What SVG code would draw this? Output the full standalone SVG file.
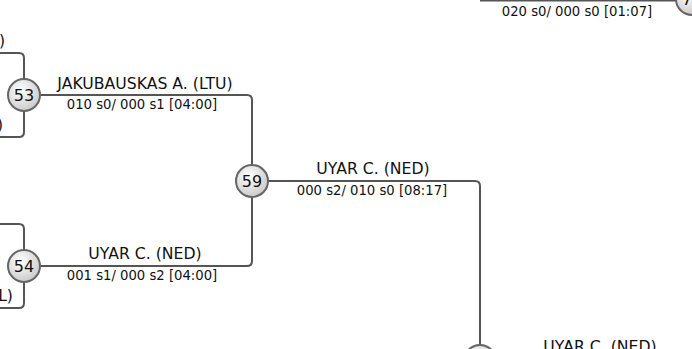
<svg xmlns="http://www.w3.org/2000/svg" width="692" height="349" viewBox="0 0 692 349">
<style>
.ln{fill:none;stroke:#555;stroke-width:2}
.nd{fill:url(#g);stroke:#666;stroke-width:2}
.nm{font-family:"DejaVu Sans",sans-serif;font-size:15.7px;fill:#111;text-anchor:middle}
.sb{font-family:"DejaVu Sans",sans-serif;font-size:13.2px;fill:#111;text-anchor:middle}
.num{font-family:"DejaVu Sans",sans-serif;font-size:16px;fill:#111;text-anchor:middle}
.e{text-anchor:end}
</style>
<defs>
<radialGradient id="g" cx="0.4" cy="0.35" r="0.7">
<stop offset="0" stop-color="#ffffff"/>
<stop offset="1" stop-color="#c8c8c8"/>
</radialGradient>
</defs>
<rect width="692" height="349" fill="#fff"/>
<g id="connectors">
<path class="ln" d="M-10,53 H19 Q24,53 24,58 V79"/>
<path class="ln" d="M-10,137 H19 Q24,137 24,132 V111"/>
<path class="ln" d="M-10,224 H19 Q24,224 24,229 V250"/>
<path class="ln" d="M-10,308 H19 Q24,308 24,303 V282"/>
<path class="ln" d="M40,95 H247 Q252,95 252,100 V165"/>
<path class="ln" d="M40,266 H247 Q252,266 252,261 V197"/>
<path class="ln" d="M268,181 H475 Q480,181 480,186 V345"/>
<path class="ln" d="M480,0.5 H677"/>
<path class="ln" d="M496,361 H710"/>
</g>
<g id="labels">
<text class="nm e" x="5" y="46">)</text>
<text class="nm e" x="3" y="130">)</text>
<text class="nm e" x="13" y="301">L)</text>
<text class="nm" x="145" y="89">JAKUBAUSKAS A. (LTU)</text>
<text class="sb" x="142" y="109">010 s0/ 000 s1 [04:00]</text>
<text class="nm" x="145" y="259">UYAR C. (NED)</text>
<text class="sb" x="142" y="280">001 s1/ 000 s2 [04:00]</text>
<text class="nm" x="373" y="174">UYAR C. (NED)</text>
<text class="sb" x="372" y="195">000 s2/ 010 s0 [08:17]</text>
<text class="sb" x="577" y="16">020 s0/ 000 s0 [01:07]</text>
<text class="nm" x="600" y="352">UYAR C. (NED)</text>
</g>
<g id="n53"><circle class="nd" cx="24" cy="95" r="16"/><text class="num" x="24" y="100.8">53</text></g>
<g id="n54"><circle class="nd" cx="24" cy="266" r="16"/><text class="num" x="24" y="271.8">54</text></g>
<g id="n59"><circle class="nd" cx="252" cy="181" r="16"/><text class="num" x="252" y="186.8">59</text></g>
<g id="n60"><circle class="nd" cx="480" cy="361" r="16"/></g>
<g id="n7x"><circle class="nd" cx="692" cy="-1" r="16"/><text class="num" x="682" y="5" style="text-anchor:start">7</text></g>
</svg>
